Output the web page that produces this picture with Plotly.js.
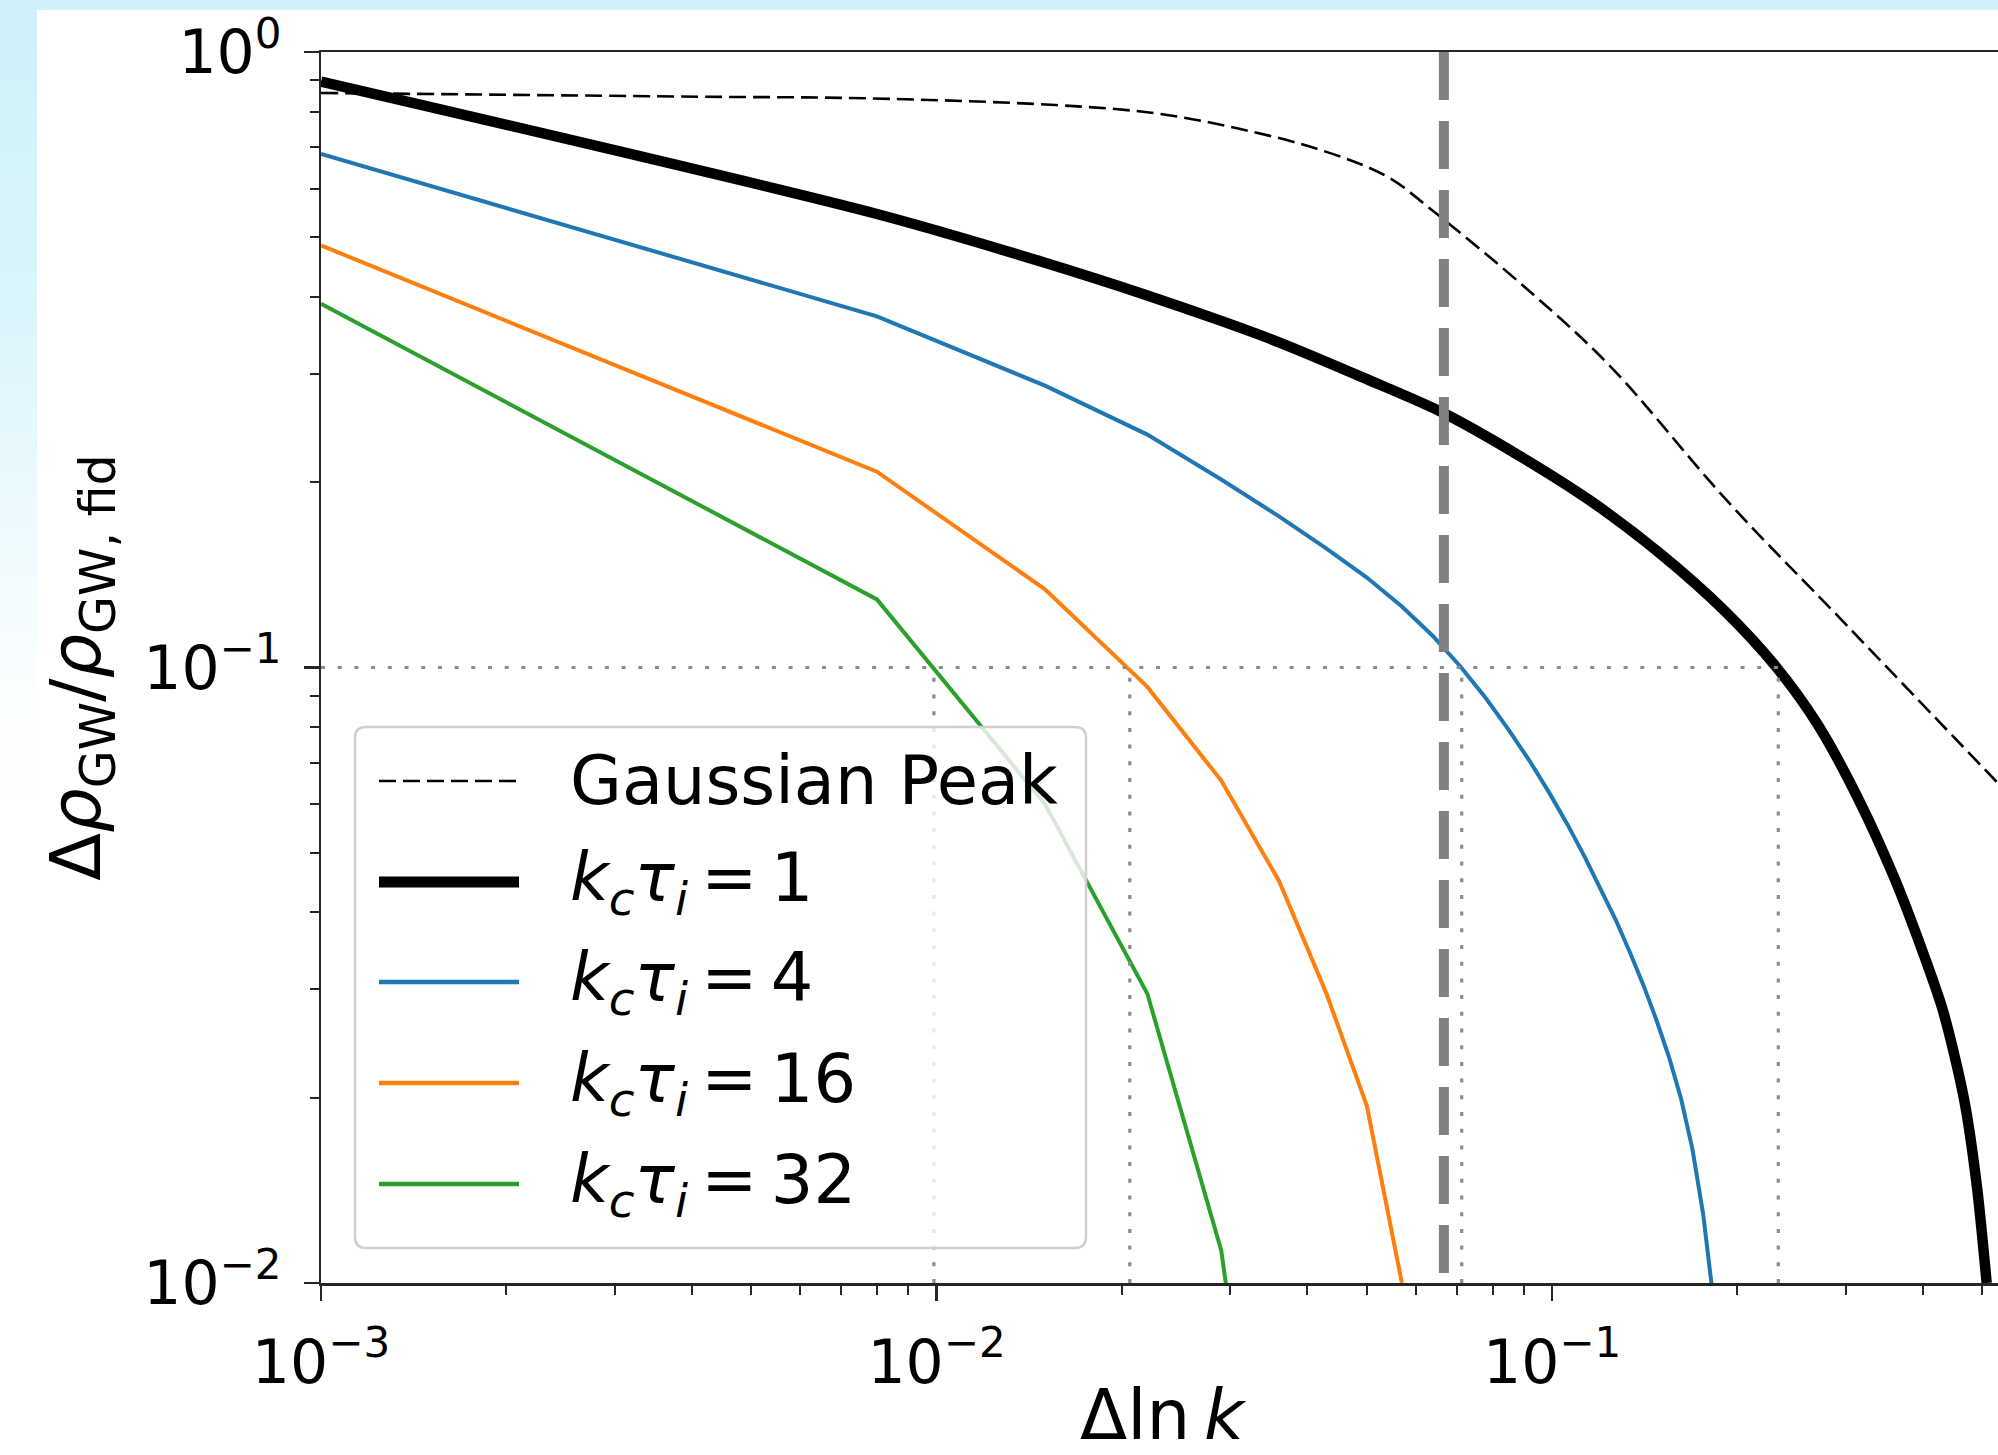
<!DOCTYPE html>
<html>
<head>
<meta charset="utf-8">
<script src="https://cdn.plot.ly/plotly-3.0.1.min.js"></script>
<style>
  html, body { margin:0; padding:0; width:1998px; height:1455px; overflow:hidden; }
  body { position:relative; background: linear-gradient(180deg, #cff1fa 0px, #daf5fc 300px, #edfafd 520px, #fbfeff 680px, #ffffff 800px); }
  #white { position:absolute; left:37px; top:10px; right:0; bottom:0; background:#ffffff; }
  #plot { position:absolute; left:0; top:0; width:2010px; height:1455px; }
</style>
</head>
<body>
<div id="white"></div>
<div id="plot"></div>
<script>
// ---------------- data ----------------
const seriesNames = ['Gaussian Peak', 'k_c τ_i = 1', 'k_c τ_i = 4', 'k_c τ_i = 16', 'k_c τ_i = 32'];
const kcTau = [1, 4, 16, 32];

const gaussX = [0.001, 0.00413, 0.00767, 0.0156, 0.0227, 0.0309, 0.0421, 0.054, 0.064, 0.0914, 0.1245, 0.192, 0.30, 0.54];
const gaussY = [0.858, 0.846, 0.841, 0.820, 0.795, 0.751, 0.693, 0.627, 0.552, 0.4105, 0.308, 0.187, 0.1175, 0.0636];

const k1X = [0.001, 0.008, 0.015, 0.022, 0.029, 0.036, 0.050, 0.066, 0.088, 0.115, 0.150, 0.190, 0.231, 0.270, 0.315, 0.360, 0.400, 0.430, 0.450, 0.469, 0.490, 0.508];
const k1Y = [0.895, 0.5455, 0.4546, 0.4023, 0.3657, 0.3376, 0.2941, 0.2603, 0.2215, 0.187, 0.153, 0.124, 0.1003, 0.0808, 0.0609, 0.0454, 0.0345, 0.0280, 0.0235, 0.0194, 0.0143, 0.0100];

const k4X = [0.001, 0.008, 0.015, 0.022, 0.029, 0.036, 0.043, 0.050, 0.057, 0.064, 0.071, 0.078, 0.085, 0.092, 0.099, 0.106, 0.113, 0.120, 0.127, 0.134, 0.141, 0.148, 0.155, 0.162, 0.169, 0.176, 0.183];
const k4Y = [0.683, 0.372, 0.287, 0.239, 0.202, 0.176, 0.156, 0.140, 0.1256, 0.1125, 0.1003, 0.0892, 0.0792, 0.0704, 0.0625, 0.0555, 0.0492, 0.0437, 0.0388, 0.0343, 0.0303, 0.0266, 0.0232, 0.0199, 0.0165, 0.0129, 0.0093];

const k16X = [0.001, 0.008, 0.015, 0.022, 0.029, 0.036, 0.043, 0.050, 0.057];
const k16Y = [0.485, 0.208, 0.134, 0.093, 0.0655, 0.045, 0.0295, 0.0194, 0.0100];

const k32X = [0.001, 0.008, 0.015, 0.022, 0.029, 0.036];
const k32Y = [0.390, 0.129, 0.060, 0.0295, 0.0113, 0.0024];

// reference lines
const threshold = 0.1;                          // horizontal dotted level
const crossX = [0.0099, 0.0206, 0.0713, 0.233]; // where each curve crosses the threshold
const peakWidthX = 0.0667;                      // vertical grey dashed line

// axis ticks
const xTickVals = [0.001, 0.01, 0.1];
const xTickText = ['10<sup>−3</sup>', '10<sup>−2</sup>', '10<sup>−1</sup>'];
const yTickVals = [0.01, 0.1, 1];
const yTickText = ['10<sup>−2</sup>', '10<sup>−1</sup>', '10<sup>0</sup>'];
const minorDigits = [2, 3, 4, 5, 6, 7, 8, 9];
const xDecades = [0.001, 0.01, 0.1];
const yDecades = [0.01, 0.1];

// ---------------- styling / layout ----------------
const FONT = 'DejaVu Sans, Verdana, sans-serif';
const colors = { gauss: '#000000', k1: '#000000', k4: '#1f77b4', k16: '#ff7f0e', k32: '#2ca02c' };
const axisColor = '#262626';

const minorOf = decs => decs.flatMap(d => minorDigits.map(m => +(d * m).toPrecision(3)));

const W = 2010, H = 1455;
const M = { l: 321, r: 7, t: 52, b: 172 };
const PW = W - M.l - M.r, PH = H - M.t - M.b;
const px = x => (x - M.l) / PW;
const py = y => (H - M.b - y) / PH;

const traces = [
  { x: gaussX, y: gaussY, mode: 'lines', line: { color: colors.gauss, width: 2.6, dash: '17px,7px', shape: 'spline', smoothing: 1 } },
  { x: k1X, y: k1Y, mode: 'lines', line: { color: colors.k1, width: 10.5, shape: 'spline', smoothing: 0.8 } },
  { x: k4X, y: k4Y, mode: 'lines', line: { color: colors.k4, width: 4 } },
  { x: k16X, y: k16Y, mode: 'lines', line: { color: colors.k16, width: 4 } },
  { x: k32X, y: k32Y, mode: 'lines', line: { color: colors.k32, width: 4 } },
];

// dotted threshold lines
const dotX = [], dotY = [];
dotX.push(xTickVals[0], crossX[crossX.length - 1], null); dotY.push(threshold, threshold, null);
crossX.forEach(c => { dotX.push(c, c, null); dotY.push(yTickVals[0], threshold, null); });
traces.push({ x: dotX, y: dotY, mode: 'lines', line: { color: '#8c8c8c', width: 3.2, dash: '4px,12.7px' } });
// grey dashed vertical
traces.push({ x: [peakWidthX, peakWidthX], y: [yTickVals[2], yTickVals[0]], mode: 'lines', line: { color: '#808080', width: 10, dash: '48px,21px' } });
traces.forEach(t => { t.showlegend = false; t.hoverinfo = 'skip'; });

// manual legend (matplotlib style)
const legBox = { x0: 355, x1: 1086, y0: 727, y1: 1248, r: 11 };
const legRows = [781, 882, 982, 1083, 1184];
const legLine = { x0: 379, x1: 519 };
const legTextX = 568;
const legStyles = [
  { color: colors.gauss, width: 2.6, dash: '17px,7px' },
  { color: colors.k1, width: 11, dash: 'solid' },
  { color: colors.k4, width: 4.5, dash: 'solid' },
  { color: colors.k16, width: 4.5, dash: 'solid' },
  { color: colors.k32, width: 4.5, dash: 'solid' },
];
const mathLabel = v => '<i>k</i><sub><i>c</i></sub><i>τ</i><sub><i>i</i></sub>\u2009=\u2009' + v;
const legLabels = [seriesNames[0]].concat(kcTau.map(mathLabel));

function roundRect(b) {
  const P = (x, y) => px(x).toFixed(5) + ',' + py(y).toFixed(5);
  const { x0, x1, y0, y1, r } = b;
  return 'M' + P(x0 + r, y0) + ' L' + P(x1 - r, y0) + ' Q' + P(x1, y0) + ' ' + P(x1, y0 + r) +
    ' L' + P(x1, y1 - r) + ' Q' + P(x1, y1) + ' ' + P(x1 - r, y1) +
    ' L' + P(x0 + r, y1) + ' Q' + P(x0, y1) + ' ' + P(x0, y1 - r) +
    ' L' + P(x0, y0 + r) + ' Q' + P(x0, y0) + ' ' + P(x0 + r, y0) + ' Z';
}

const shapes = [{
  type: 'path', xref: 'paper', yref: 'paper', path: roundRect(legBox), layer: 'above',
  fillcolor: 'rgba(255,255,255,0.8)', line: { color: '#cfcfcf', width: 2.5 }
}];
const annotations = [];
legRows.forEach((ry, i) => {
  shapes.push({ type: 'line', xref: 'paper', yref: 'paper', layer: 'above',
    x0: px(legLine.x0), x1: px(legLine.x1), y0: py(ry), y1: py(ry), line: legStyles[i] });
  annotations.push({ xref: 'paper', yref: 'paper', x: px(legTextX), y: py(ry), xanchor: 'left', yanchor: 'middle',
    showarrow: false, text: legLabels[i], font: { family: FONT, size: 67, color: '#000' } });
});

const axisCommon = {
  type: 'log', showgrid: false, zeroline: false, showline: true, mirror: true,
  linecolor: axisColor, linewidth: 2.5, ticks: 'outside', ticklen: 15, tickwidth: 2.5, tickcolor: axisColor,
  tickmode: 'array', tickfont: { family: FONT, size: 60, color: '#000' }
};

const layout = {
  width: W, height: H, margin: M,
  paper_bgcolor: 'rgba(0,0,0,0)', plot_bgcolor: '#ffffff',
  showlegend: false,
  xaxis: Object.assign({}, axisCommon, {
    range: [-3, Math.log10(0.54)], tickvals: xTickVals, ticktext: xTickText, ticklabelstandoff: 10,
    minor: { tickmode: 'array', tickvals: minorOf(xDecades), ticks: 'outside', ticklen: 9, tickwidth: 2, tickcolor: axisColor, showgrid: false },
    title: { text: 'Δln\u2009<i>k</i>', font: { family: FONT, size: 69, color: '#000' }, standoff: 24 }
  }),
  yaxis: Object.assign({}, axisCommon, {
    range: [-2, 0], tickvals: yTickVals, ticktext: yTickText, ticklabelstandoff: 10,
    minor: { tickmode: 'array', tickvals: minorOf(yDecades), ticks: 'outside', ticklen: 9, tickwidth: 2, tickcolor: axisColor, showgrid: false },
    title: { text: 'Δ<i>ρ</i><sub>GW</sub>/<i>ρ</i><sub>GW, fid</sub>', font: { family: FONT, size: 70, color: '#000' }, standoff: 20 }
  }),
  shapes: shapes,
  annotations: annotations
};

Plotly.newPlot('plot', traces, layout, { displayModeBar: false, staticPlot: true });
</script>
</body>
</html>
